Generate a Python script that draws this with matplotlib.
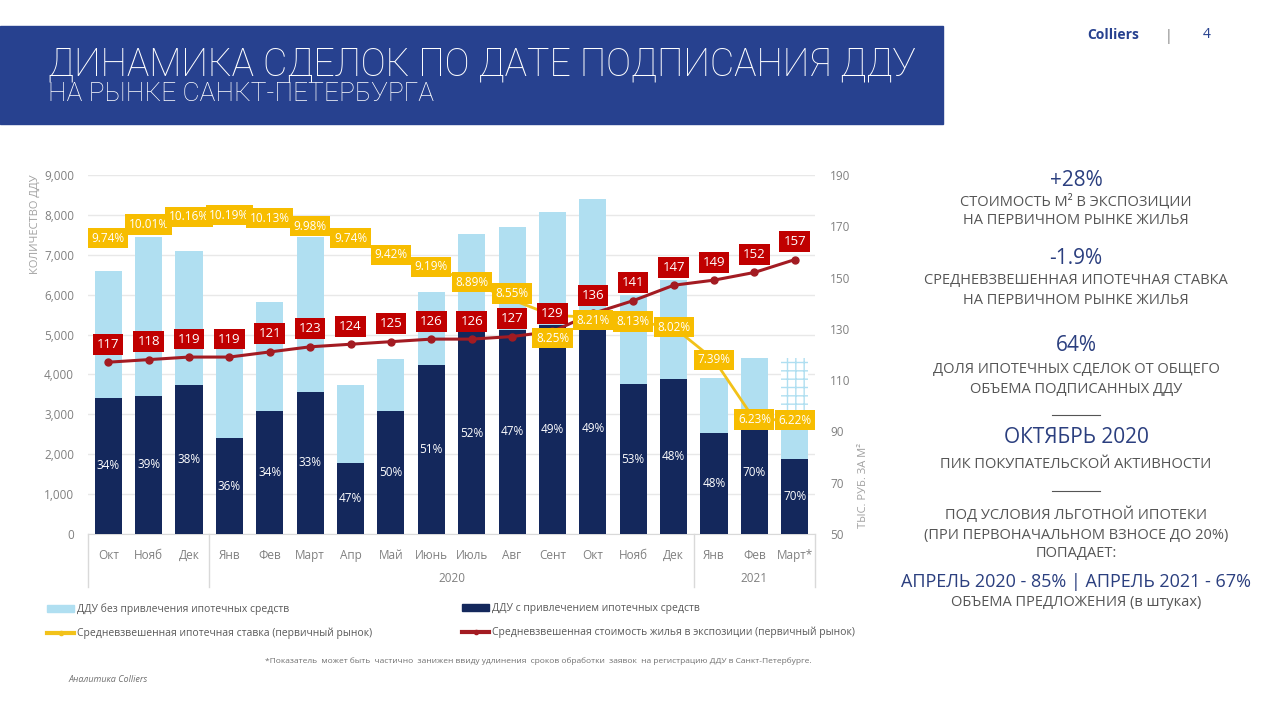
import numpy as np
import matplotlib
matplotlib.use('Agg')
import matplotlib.pyplot as plt
import matplotlib.patches as mpatches
from matplotlib.lines import Line2D
from matplotlib.ticker import FuncFormatter
import matplotlib.transforms as mtransforms

plt.rcParams['font.family'] = ['Open Sans', 'DejaVu Sans']

# --- data ---
months = ['Окт', 'Нояб', 'Дек', 'Янв', 'Фев', 'Март', 'Апр', 'Май', 'Июнь',
          'Июль', 'Авг', 'Сент', 'Окт', 'Нояб', 'Дек', 'Янв', 'Фев', 'Март*']
years = ['2020', '2021']
no_mortgage = [6600, 7440, 7100, 4800, 5820, 7440, 3730, 4380, 6070,
               7520, 7700, 8070, 8400, 6000, 6370, 3900, 4410, 2950]
no_mortgage_est = 4400          # hatched part of the last (incomplete) month
mortgage = [3410, 3460, 3730, 2400, 3080, 3560, 1780, 3080, 4240,
            5060, 5120, 5240, 5310, 3760, 3880, 2530, 3080, 1880]
mortgage_share = ['34%', '39%', '38%', '36%', '34%', '33%', '47%', '50%', '51%',
                  '52%', '47%', '49%', '49%', '53%', '48%', '48%', '70%', '70%']
price = [117, 118, 119, 119, 121, 123, 124, 125, 126,
         126, 127, 129, 136, 141, 147, 149, 152, 157]
rate = [9.74, 10.01, 10.16, 10.19, 10.13, 9.98, 9.74, 9.42, 9.19,
        8.89, 8.55, 8.25, 8.21, 8.13, 8.02, 7.39, 6.23, 6.22]

LIGHT = '#b0dff1'
NAVY = '#14285c'
RED = '#a31b22'
RED_BOX = '#c00000'
YELLOW = '#f7bd00'
GRAY = '#808080'
BLUE = '#27418f'
TXT_NAVY = '#2b3f7f'

W, H = 1280, 720
fig = plt.figure(figsize=(12.8, 7.2), dpi=100)

# header band
fig.patches.append(mpatches.Rectangle((0, 1 - 124 / H), 943 / W, 98 / H,
                                      transform=fig.transFigure, color=BLUE, zorder=0))
fig.text(48 / W, 1 - 75 / H, 'ДИНАМИКА СДЕЛОК ПО ДАТЕ ПОДПИСАНИЯ ДДУ', color='white',
         fontsize=27, va='baseline', family='Roboto', fontweight='light')
fig.text(48 / W, 1 - 101 / H, 'НА РЫНКЕ САНКТ-ПЕТЕРБУРГА', color='white',
         fontsize=19, va='baseline', family='Roboto', fontweight='light')
fig.text(1087 / W, 1 - 35 / H, 'Colliers', color=BLUE, fontsize=10,
         fontweight='bold', va='center')
fig.text(1168 / W, 1 - 36 / H, '|', color=GRAY, fontsize=10, va='center', ha='center')
fig.text(1207 / W, 1 - 35 / H, '4', color=BLUE, fontsize=10, va='center', ha='center')

# main chart
ax = fig.add_axes([88 / W, 186 / H, 727 / W, 359 / H])
x = np.arange(len(months))
bw = 0.67
ax.bar(x, no_mortgage, width=bw, color=LIGHT, zorder=2)
ax.bar(x[-1], no_mortgage_est - no_mortgage[-1], bottom=no_mortgage[-1], width=bw,
       color='white', edgecolor=LIGHT, hatch='++', lw=0, zorder=2)
ax.bar(x, mortgage, width=bw, color=NAVY, zorder=3)
for i, (m, s) in enumerate(zip(mortgage, mortgage_share)):
    ax.text(i, m / 2, s, color='white', fontsize=8.5, ha='center', va='center', zorder=4)

ax.set_xlim(-0.5, len(months) - 0.5)
ax.set_ylim(0, 9000)
ax.set_yticks(range(0, 9001, 1000))
ax.yaxis.set_major_formatter(FuncFormatter(lambda v, p: f'{v:,.0f}'))
ax.set_xticks(x, months)
ax.tick_params(axis='both', length=0, colors=GRAY, labelsize=8.5)
ax.tick_params(axis='y', pad=10)
ax.tick_params(axis='x', pad=11)
ax.yaxis.grid(True, color='#e8e8e8', lw=1)
ax.set_axisbelow(True)
for sp in ['top', 'left', 'right']:
    ax.spines[sp].set_visible(False)
ax.spines['bottom'].set_color('#d9d9d9')

# year groups under the month labels
trans = mtransforms.blended_transform_factory(ax.transData, ax.transAxes)
for sx in [-0.5, 2.5, 14.5, 17.5]:
    ax.plot([sx, sx], [0, -0.148], transform=trans, color='#d9d9d9', lw=1, clip_on=False)
ax.text(8.5, -0.123, years[0], transform=trans, ha='center', va='center',
        color=GRAY, fontsize=8.5)
ax.text(16, -0.123, years[1], transform=trans, ha='center', va='center',
        color=GRAY, fontsize=8.5)

# price line (right axis)
ax2 = ax.twinx()
ax2.set_ylim(50, 190)
ax2.set_yticks(range(50, 191, 20))
ax2.tick_params(axis='y', length=0, colors=GRAY, labelsize=8.5, pad=11)
for sp in ax2.spines.values():
    sp.set_visible(False)
ax2.plot(x, price, color=RED, lw=2.2, marker='o', ms=5, zorder=5)

# mortgage rate line (hidden axis, drawn on top; all labels live here)
ax3 = ax.twinx()
ax3.set_ylim(4.01, 10.97)
ax3.axis('off')
ax3.plot(x, rate, color='#f2c21a', lw=2, zorder=5)

red_off = 13  # points above the marker
for i, v in enumerate(price):
    ax3.annotate(str(v), (i, v), xycoords=ax2.transData, xytext=(0, red_off),
                 textcoords='offset points', ha='center', va='center', color='white',
                 fontsize=9.5, zorder=7,
                 bbox=dict(boxstyle='square,pad=0.3', fc=RED_BOX, ec='none'))

min_gap = 25  # px between yellow and red label centres
for i, v in enumerate(rate):
    ry = ax2.transData.transform((i, price[i]))[1] + red_off * fig.dpi / 72
    yy = ax3.transData.transform((i, v))[1]
    d = yy - ry
    shift = 0.0
    if abs(d) < min_gap:
        shift = (min_gap - abs(d)) * (1 if d >= 0 else -1)
    ax3.annotate(f'{v:.2f}%', (i, v), xytext=(0, shift * 72 / fig.dpi),
                 textcoords='offset points', ha='center', va='center', color='white',
                 fontsize=8.5, zorder=8,
                 bbox=dict(boxstyle='square,pad=0.3', fc=YELLOW, ec='none'))

# axis titles
fig.text(35 / W, 1 - 224 / H, 'КОЛИЧЕСТВО ДДУ', rotation=90, ha='center', va='center',
         color='#a0a0a0', fontsize=8)
fig.text(863 / W, 1 - 485 / H, 'ТЫС. РУБ. ЗА М²', rotation=90, ha='center', va='center',
         color='#a0a0a0', fontsize=8)

# legend
h_light = mpatches.Patch(color=LIGHT, label='ДДУ без привлечения ипотечных средств')
h_navy = mpatches.Patch(color=NAVY, label='ДДУ с привлечением ипотечных средств')
h_rate = Line2D([], [], color='#f2c21a', lw=3, marker='o', ms=3,
                label='Средневзвешенная ипотечная ставка (первичный рынок)')
h_price = Line2D([], [], color=RED, lw=3, marker='o', ms=3,
                 label='Средневзвешенная стоимость жилья в экспозиции (первичный рынок)')
for hs, xl in [([h_light, h_rate], 42), ([h_navy, h_price], 457)]:
    fig.legend(handles=hs, loc='upper left', bbox_to_anchor=(xl / W, 1 - 598 / H),
               frameon=False, fontsize=7.5, labelcolor='#595959', borderpad=0,
               labelspacing=1.2, handlelength=2.6, handleheight=0.6,
               handletextpad=0.3)

fig.text(538 / W, 1 - 661 / H,
         '*Показатель  может быть  частично  занижен ввиду удлинения  сроков обработки  '
         'заявок  на регистрацию ДДУ в Санкт-Петербурге.',
         ha='center', va='center', color='#707070', fontsize=6)
fig.text(68 / W, 1 - 679 / H, 'Аналитика Colliers', ha='left', va='center',
         color='#707070', fontsize=6.5, style='italic')

# right panel
cx = 1076 / W
big = dict(ha='center', va='center', color=TXT_NAVY, fontsize=15)
small = dict(ha='center', va='center', color='#555555', fontsize=10.5)
fig.text(cx, 1 - 180 / H, '+28%', **big)
fig.text(cx, 1 - 202 / H, 'СТОИМОСТЬ М² В ЭКСПОЗИЦИИ', **small)
fig.text(cx, 1 - 221 / H, 'НА ПЕРВИЧНОМ РЫНКЕ ЖИЛЬЯ', **small)
fig.text(cx, 1 - 258 / H, '-1.9%', **big)
fig.text(cx, 1 - 281 / H, 'СРЕДНЕВЗВЕШЕННАЯ ИПОТЕЧНАЯ СТАВКА', **small)
fig.text(cx, 1 - 300 / H, 'НА ПЕРВИЧНОМ РЫНКЕ ЖИЛЬЯ', **small)
fig.text(cx, 1 - 345 / H, '64%', **big)
fig.text(cx, 1 - 370 / H, 'ДОЛЯ ИПОТЕЧНЫХ СДЕЛОК ОТ ОБЩЕГО', **small)
fig.text(cx, 1 - 389 / H, 'ОБЪЕМА ПОДПИСАННЫХ ДДУ', **small)
fig.add_artist(Line2D([1052 / W, 1100 / W], [1 - 415 / H, 1 - 415 / H],
                      color='#555555', lw=0.8))
fig.text(cx, 1 - 438 / H, 'ОКТЯБРЬ 2020', **big)
fig.text(cx, 1 - 465 / H, 'ПИК ПОКУПАТЕЛЬСКОЙ АКТИВНОСТИ', **small)
fig.add_artist(Line2D([1052 / W, 1100 / W], [1 - 491 / H, 1 - 491 / H],
                      color='#555555', lw=0.8))
fig.text(cx, 1 - 515 / H, 'ПОД УСЛОВИЯ ЛЬГОТНОЙ ИПОТЕКИ', **small)
fig.text(cx, 1 - 535 / H, '(ПРИ ПЕРВОНАЧАЛЬНОМ ВЗНОСЕ ДО 20%)', **small)
fig.text(cx, 1 - 553 / H, 'ПОПАДАЕТ:', **small)
fig.text(cx, 1 - 582 / H, 'АПРЕЛЬ 2020 - 85% | АПРЕЛЬ 2021 - 67%', ha='center',
         va='center', color=TXT_NAVY, fontsize=13)
fig.text(cx, 1 - 603 / H, 'ОБЪЕМА ПРЕДЛОЖЕНИЯ (в штуках)', **small)

fig.savefig('out.png', dpi=100)
